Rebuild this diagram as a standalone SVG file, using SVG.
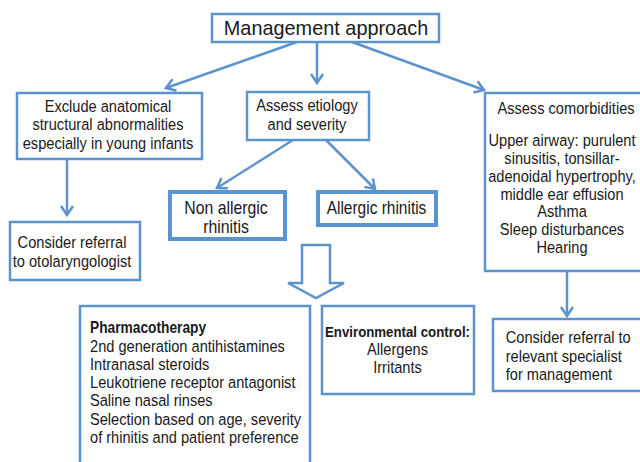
<svg xmlns="http://www.w3.org/2000/svg" width="640" height="462" viewBox="0 0 640 462">
<defs>
<marker id="ah" markerUnits="userSpaceOnUse" markerWidth="14" markerHeight="14" refX="9" refY="6" orient="auto" overflow="visible">
<path d="M0,0 L9,6 L0,12" fill="none" stroke="#5b93cf" stroke-width="2.5"/>
</marker>
<style>
.box{fill:#fff;stroke:#5b93cf;stroke-width:2.5}
.thick{stroke-width:4}
.t{font-family:"Liberation Sans",Arial,sans-serif;font-size:17px;fill:#1a1a1a}
.c{text-anchor:middle}
.b{font-weight:bold;font-size:16px}
.big{font-size:18px}
.ln{fill:none;stroke:#5b93cf;stroke-width:2.5;marker-end:url(#ah)}
</style>
</defs>
<rect width="640" height="462" fill="#fff"/>
<g id="connectors">
<line class="ln" x1="297" y1="42" x2="166" y2="88"/>
<line class="ln" x1="317" y1="42" x2="317" y2="83"/>
<line class="ln" x1="352" y1="42" x2="484" y2="90"/>
<line class="ln" x1="67" y1="159" x2="67" y2="215"/>
<line class="ln" x1="293" y1="140" x2="217" y2="188"/>
<line class="ln" x1="326" y1="140" x2="375" y2="189"/>
<line class="ln" x1="567" y1="271" x2="567" y2="316"/>
<polygon points="302,245 330,245 330,283 344,283 316,298 288,283 302,283" fill="#fff" stroke="#5b93cf" stroke-width="2.5"/>
</g>
<g id="title">
<rect class="box" x="212" y="14" width="227" height="28"/>
<text class="t c" transform="translate(326 0) scale(0.97 1)" x="0" y="35.5" style="font-size:20.5px">Management approach</text>
</g>
<g id="exclude">
<rect class="box" x="17" y="93" width="185" height="66"/>
<text class="t c" transform="translate(108 0) scale(0.86 1)"><tspan x="0" y="112">Exclude anatomical</tspan><tspan x="0" y="130.3">structural abnormalities</tspan><tspan x="0" y="148.6">especially in young infants</tspan></text>
</g>
<g id="etiology">
<rect class="box" x="247" y="92" width="122" height="48"/>
<text class="t c" transform="translate(307 0) scale(0.86 1)"><tspan x="0" y="111.5">Assess etiology</tspan><tspan x="0" y="130">and severity</tspan></text>
</g>
<g id="comorbidities">
<rect class="box" x="485" y="93" width="160" height="178"/>
<text class="t c" transform="translate(566 0) scale(0.86 1)" x="0" y="114">Assess comorbidities</text>
<text class="t c" transform="translate(562 0) scale(0.86 1)"><tspan x="0" y="146.5">Upper airway: purulent</tspan><tspan x="0" y="164.2">sinusitis, tonsillar-</tspan><tspan x="0" y="181.9">adenoidal hypertrophy,</tspan><tspan x="0" y="199.6">middle ear effusion</tspan><tspan x="0" y="217.3">Asthma</tspan><tspan x="0" y="235">Sleep disturbances</tspan><tspan x="0" y="252.7">Hearing</tspan></text>
</g>
<g id="nonallergic">
<rect class="box thick" x="170" y="192" width="115" height="47"/>
<text class="t c big" transform="translate(226 0) scale(0.88 1)"><tspan x="0" y="214">Non allergic</tspan><tspan x="0" y="233.5">rhinitis</tspan></text>
</g>
<g id="allergic">
<rect class="box thick" x="318" y="192" width="118" height="33"/>
<text class="t c" transform="translate(376.5 0) scale(0.86 1)" x="0" y="214" style="font-size:18px">Allergic rhinitis</text>
</g>
<g id="otolaryngologist">
<rect class="box" x="10" y="222" width="130" height="58"/>
<text class="t c" transform="translate(72 0) scale(0.86 1)"><tspan x="0" y="248.5">Consider referral</tspan><tspan x="0" y="266.8">to otolaryngologist</tspan></text>
</g>
<g id="pharmacotherapy">
<rect class="box" x="80" y="306" width="230" height="170"/>
<text class="t" transform="translate(90 0) scale(0.86 1)"><tspan x="0" y="333.3" class="b">Pharmacotherapy</tspan><tspan x="0" y="351.6">2nd generation antihistamines</tspan><tspan x="0" y="369.9">Intranasal steroids</tspan><tspan x="0" y="388.2">Leukotriene receptor antagonist</tspan><tspan x="0" y="406.5">Saline nasal rinses</tspan><tspan x="0" y="424.8">Selection based on age, severity</tspan><tspan x="0" y="443.1">of rhinitis and patient preference</tspan></text>
</g>
<g id="environmental">
<rect class="box" x="322" y="306" width="152" height="88"/>
<text class="t c" transform="translate(397.5 0) scale(0.86 1)"><tspan x="0" y="336.7" class="b" style="font-size:15.4px">Environmental control:</tspan><tspan x="0" y="355">Allergens</tspan><tspan x="0" y="373.3">Irritants</tspan></text>
</g>
<g id="specialist">
<rect class="box" x="493" y="319" width="152" height="72"/>
<text class="t" transform="translate(505.7 0) scale(0.86 1)"><tspan x="0" y="343.3">Consider referral to</tspan><tspan x="0" y="361.6">relevant specialist</tspan><tspan x="0" y="379.9">for management</tspan></text>
</g>
</svg>
